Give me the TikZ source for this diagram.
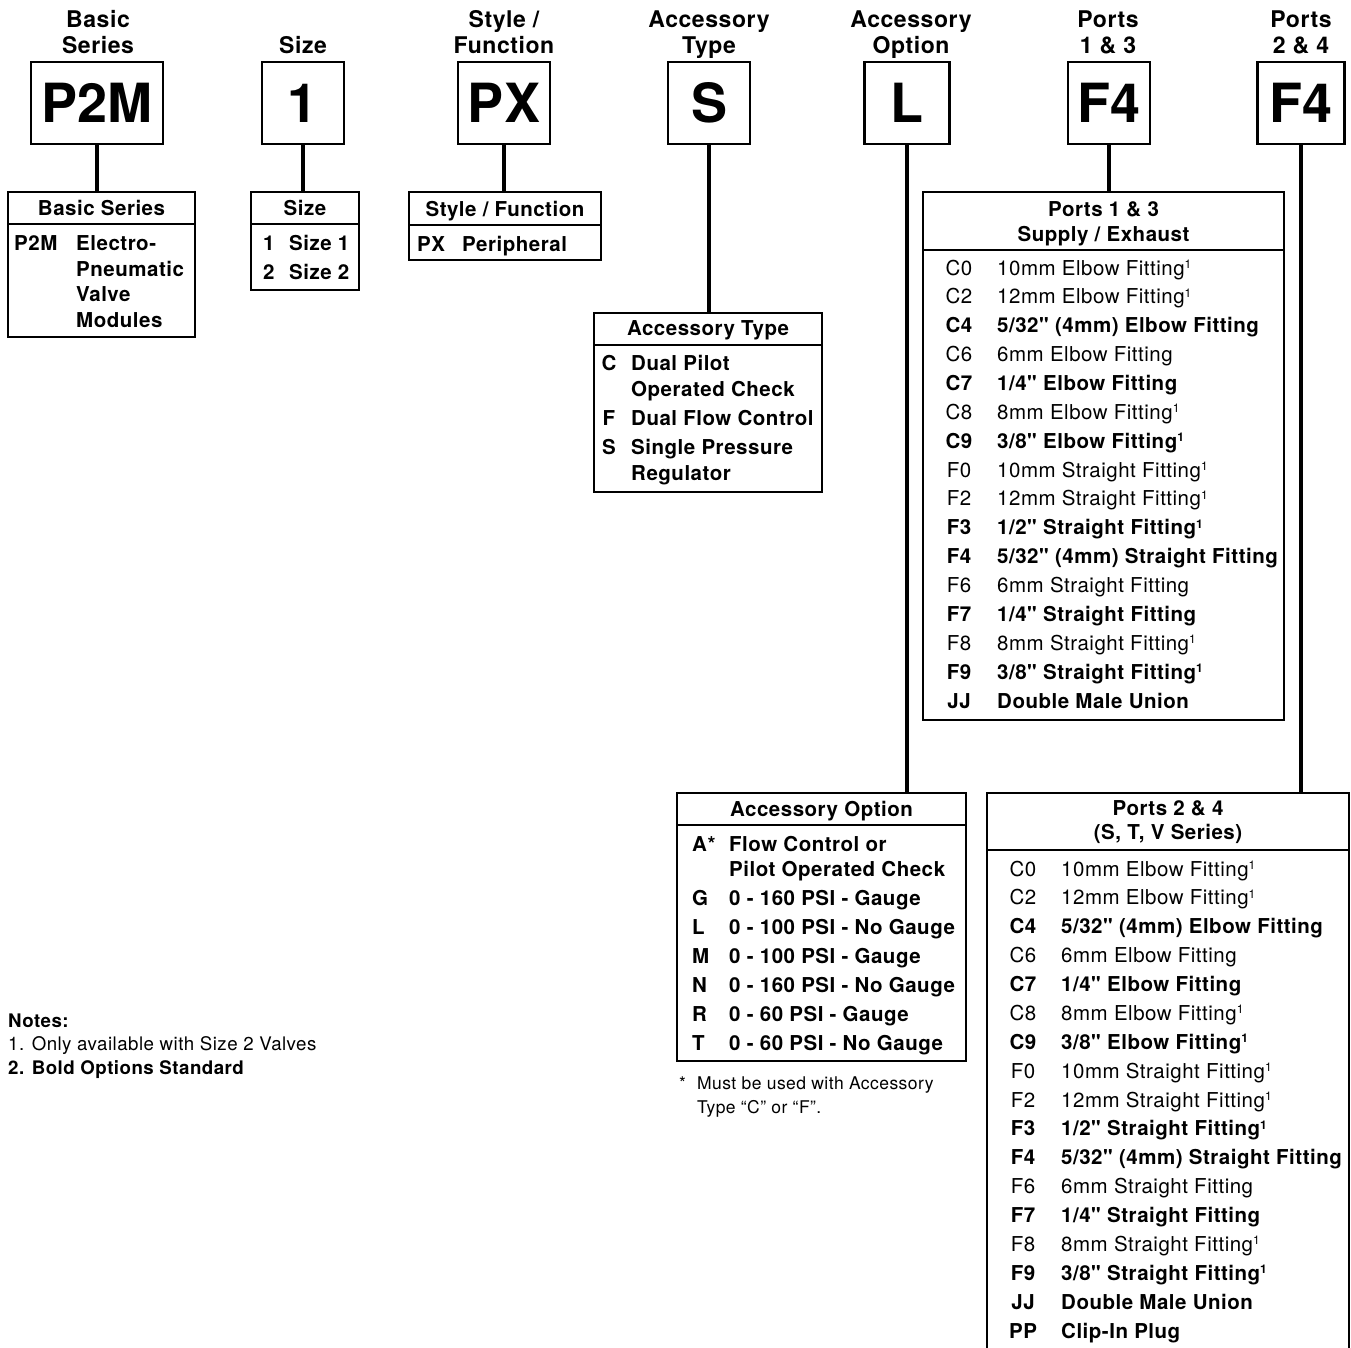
\documentclass[tikz,border=0pt]{standalone}
\usepackage{fontspec}
\setmainfont{TeX Gyre Heros}[Ligatures=TeXOff, LetterSpace=2.5]
\newcommand\rfont{\fontsize{20.5}{24}\selectfont}
\newcommand\tfont{\fontsize{23}{26}\selectfont}
\newcommand\nfont{\fontsize{18.7}{22}\selectfont}
\newcommand\sfontn{\fontsize{17.5}{20}\selectfont}
\newcommand\bigfont{\fontsize{54}{60}\selectfont\bfseries\addfontfeatures{LetterSpace=0}}
\newcommand\sone{\raisebox{6.5pt}{\fontsize{12}{12}\selectfont 1}}
\def\portlist{C0/{10mm Elbow Fitting\sone}/\mdseries,
C2/{12mm Elbow Fitting\sone}/\mdseries,
C4/{5/32" (4mm) Elbow Fitting}/\bfseries,
C6/{6mm Elbow Fitting}/\mdseries,
C7/{1/4" Elbow Fitting}/\bfseries,
C8/{8mm Elbow Fitting\sone}/\mdseries,
C9/{3/8" Elbow Fitting\sone}/\bfseries,
F0/{10mm Straight Fitting\sone}/\mdseries,
F2/{12mm Straight Fitting\sone}/\mdseries,
F3/{1/2" Straight Fitting\sone}/\bfseries,
F4/{5/32" (4mm) Straight Fitting}/\bfseries,
F6/{6mm Straight Fitting}/\mdseries,
F7/{1/4" Straight Fitting}/\bfseries,
F8/{8mm Straight Fitting\sone}/\mdseries,
F9/{3/8" Straight Fitting\sone}/\bfseries,
JJ/{Double Male Union}/\bfseries}
\begin{document}
\begin{tikzpicture}[x=1pt,y=-1pt,
 frame/.style={draw, line width=2pt, inner sep=0pt},
 bigbox/.style={draw, line width=2.5pt, inner sep=0pt, minimum height=82pt, font=\bigfont},
 conn/.style={line width=4.5pt},
 rule/.style={line width=2pt},
 toplbl/.style={inner sep=0pt, font=\tfont\bfseries, anchor=base},
 lbl/.style={inner sep=0pt, font=\rfont\bfseries, anchor=base},
 txt/.style={inner sep=0pt, anchor=base west, font=\rfont},
 txtb/.style={inner sep=0pt, anchor=base west, font=\rfont\bfseries},
 ctrb/.style={inner sep=0pt, anchor=base, font=\rfont\bfseries},
 small/.style={inner sep=0pt, anchor=base west, font=\sfontn},
 note/.style={inner sep=0pt, anchor=base west, font=\nfont},
]
\useasboundingbox (0,0) rectangle (1351,1347);
% top labels
\node[toplbl] (h1a) at (98,27) {Basic};
\node[toplbl] (h1b) at (98,53) {Series};
\node[toplbl] (h2b) at (303,53) {Size};
\node[toplbl] (h3a) at (504,27) {Style /};
\node[toplbl] (h3b) at (504,53) {Function};
\node[toplbl] (h4a) at (709,27) {Accessory};
\node[toplbl] (h4b) at (709,53) {Type};
\node[toplbl] (h5a) at (911,27) {Accessory};
\node[toplbl] (h5b) at (911,53) {Option};
\node[toplbl] (h6a) at (1108,27) {Ports};
\node[toplbl] (h6b) at (1108,53) {1 \& 3};
\node[toplbl] (h7a) at (1301,27) {Ports};
\node[toplbl] (h7b) at (1301,53) {2 \& 4};
% big boxes
\node[bigbox, minimum width=132pt] (bP2M) at (97,103) {P2M};
\node[bigbox, minimum width=82pt] (bSZ) at (303,103) {1};
\node[bigbox, minimum width=92pt] (bPX) at (504,103) {PX};
\node[bigbox, minimum width=82pt] (bS) at (709,103) {S};
\node[bigbox, minimum width=85pt] (bL) at (907,103) {L};
\node[bigbox, minimum width=82pt] (bF1) at (1109,103) {F4};
\node[bigbox, minimum width=87pt] (bF2) at (1301,103) {F4};
% tables
\node[frame, minimum width=187pt, minimum height=145pt] (tBS) at (101.5,264.5) {};
\node[frame, minimum width=108pt, minimum height=98pt] (tSZ) at (305,241) {};
\node[frame, minimum width=192pt, minimum height=68pt] (tSF) at (505,226) {};
\node[frame, minimum width=228pt, minimum height=179pt] (tAT) at (708,402.5) {};
\node[frame, minimum width=361pt, minimum height=528pt] (tP13) at (1103.5,456) {};
\node[frame, minimum width=289pt, minimum height=268pt] (tAO) at (821.5,927) {};
\node[frame, minimum width=362pt, minimum height=567pt] (tP24) at (1168,1076.5) {};
% dividers
\draw[rule] (tBS.west |- 0,224) -- (tBS.east |- 0,224);
\draw[rule] (tSZ.west |- 0,224) -- (tSZ.east |- 0,224);
\draw[rule] (tSF.west |- 0,225) -- (tSF.east |- 0,225);
\draw[rule] (tAT.west |- 0,345) -- (tAT.east |- 0,345);
\draw[rule] (tP13.west |- 0,250) -- (tP13.east |- 0,250);
\draw[rule] (tAO.west |- 0,825) -- (tAO.east |- 0,825);
\draw[rule] (tP24.west |- 0,850) -- (tP24.east |- 0,850);
% connectors
\draw[conn] (bP2M.south) -- (bP2M.south |- tBS.north);
\draw[conn] (bSZ.south) -- (bSZ.south |- tSZ.north);
\draw[conn] (bPX.south) -- (bPX.south |- tSF.north);
\draw[conn] (bS.south) -- (bS.south |- tAT.north);
\draw[conn] (bL.south) -- (bL.south |- tAO.north);
\draw[conn] (bF1.south) -- (bF1.south |- tP13.north);
\draw[conn] (bF2.south) -- (bF2.south |- tP24.north);
% Basic series
\node[lbl] (bsH) at (101.5,215) {Basic Series};
\node[txtb] (bs1) at (14,250) {P2M};
\node[txtb] (bs2) at (76,250) {Electro-};
\node[txtb] (bs3) at (76,276) {Pneumatic};
\node[txtb] (bs4) at (76,301) {Valve};
\node[txtb] (bs5) at (76,327) {Modules};
% Size
\node[lbl] (szH) at (305,215) {Size};
\node[txtb] (sz1) at (263,250) {1};
\node[txtb] (sz2) at (289,250) {Size 1};
\node[txtb] (sz3) at (263,279) {2};
\node[txtb] (sz4) at (289,279) {Size 2};
% Style / function
\node[lbl] (sfH) at (505,216) {Style / Function};
\node[txtb] (sf1) at (417,251) {PX};
\node[txtb] (sf2) at (462,251) {Peripheral};
% Accessory type
\node[lbl] (atH) at (708,335) {Accessory Type};
\node[ctrb] (at1) at (609,370) {C};
\node[txtb] (at2) at (631,370) {Dual Pilot};
\node[txtb] (at3) at (631,396) {Operated Check};
\node[ctrb] (at4) at (609,425) {F};
\node[txtb] (at5) at (631,425) {Dual Flow Control};
\node[ctrb] (at6) at (609,454) {S};
\node[txtb] (at7) at (631,454) {Single Pressure};
\node[txtb] (at8) at (631,480) {Regulator};
% Ports 1 & 3
\node[lbl] (p13H1) at (1103.5,216) {Ports 1 \& 3};
\node[lbl] (p13H2) at (1103.5,241) {Supply / Exhaust};
\foreach \c/\d/\s [count=\i from 0] in \portlist {
  \node[inner sep=0pt, anchor=base, font=\rfont\s] (pa\i) at (959,275+28.87*\i) {\c};
  \node[inner sep=0pt, anchor=base west, font=\rfont\s] (pb\i) at (997,275+28.87*\i) {\d};
}
% Accessory option
\node[lbl] (aoH) at (821.5,816) {Accessory Option};
\node[txtb] (ao1) at (692,851) {A*};
\node[txtb] (ao2) at (729,851) {Flow Control or};
\node[txtb] (ao3) at (729,876) {Pilot Operated Check};
\node[txtb] (ao4) at (692,905) {G};
\node[txtb] (ao5) at (729,905) {0 - 160 PSI - Gauge};
\node[txtb] (ao6) at (692,934) {L};
\node[txtb] (ao7) at (729,934) {0 - 100 PSI - No Gauge};
\node[txtb] (ao8) at (692,963) {M};
\node[txtb] (ao9) at (729,963) {0 - 100 PSI - Gauge};
\node[txtb] (ao10) at (692,992) {N};
\node[txtb] (ao11) at (729,992) {0 - 160 PSI - No Gauge};
\node[txtb] (ao12) at (692,1021) {R};
\node[txtb] (ao13) at (729,1021) {0 - 60 PSI - Gauge};
\node[txtb] (ao14) at (692,1050) {T};
\node[txtb] (ao15) at (729,1050) {0 - 60 PSI - No Gauge};
\node[small] (fn1) at (679,1089) {*};
\node[small] (fn2) at (697,1089) {Must be used with Accessory};
\node[small] (fn3) at (697,1113) {Type “C” or “F”.};
% Ports 2 & 4
\node[lbl] (p24H1) at (1168,815) {Ports 2 \& 4};
\node[lbl] (p24H2) at (1168,839) {(S, T, V Series)};
\foreach \c/\d/\s [count=\i from 0] in \portlist {
  \node[inner sep=0pt, anchor=base, font=\rfont\s] (qa\i) at (1023,876+28.875*\i) {\c};
  \node[inner sep=0pt, anchor=base west, font=\rfont\s] (qb\i) at (1061,876+28.875*\i) {\d};
}
\node[ctrb] (qa16) at (1023,1338) {PP};
\node[txtb] (qb16) at (1061,1338) {Clip-In Plug};
% Notes
\node[note, font=\nfont\bfseries] (n1) at (8,1027) {Notes:};
\node[note] (n2) at (8,1050) {1. Only available with Size 2 Valves};
\node[note, font=\nfont\bfseries] (n3) at (8,1074) {2. Bold Options Standard};
\end{tikzpicture}
\end{document}
